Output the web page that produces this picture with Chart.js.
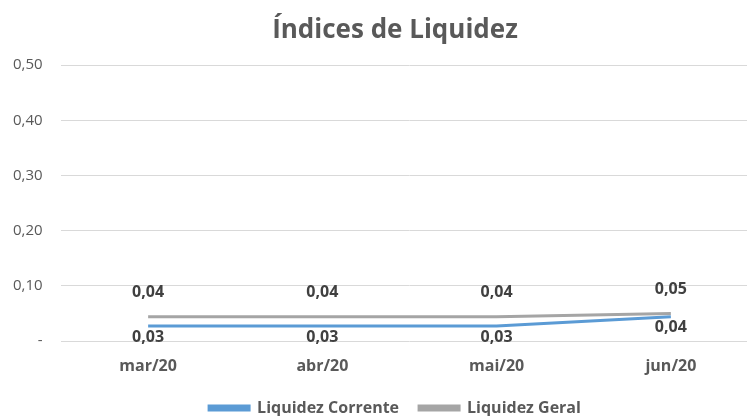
<!DOCTYPE html>
<html>
<head>
<meta charset="utf-8">
<script src="https://cdn.jsdelivr.net/npm/chart.js@4"></script>
<style>
    html, body { margin: 0; padding: 0; background: #fff; overflow: hidden; }
    #wrap { width: 790px; height: 426px; }
</style>
</head>
<body>
<div id="wrap"><canvas id="liquidezChart"></canvas></div>
<script>
const meses = ['mar/20', 'abr/20', 'mai/20', 'jun/20'];
const liquidezCorrente = [0.027, 0.027, 0.027, 0.044];
const liquidezGeral = [0.044, 0.044, 0.044, 0.050];
const yTicks = [0, 0.1, 0.2, 0.3, 0.4, 0.5];

const fonte = "'Open Sans', sans-serif";

function formatar(v){
    if(v === 0){
        return '-';
    }
    return v.toFixed(2).replace('.', ',');
}

// rótulos de dados no estilo do Excel
const rotulos = {
    id: 'rotulos',
    afterDatasetsDraw(chart){
        const ctx = chart.ctx;
        ctx.save();
        ctx.font = 'bold 16px ' + fonte;
        ctx.fillStyle = '#404040';
        ctx.textAlign = 'center';
        ctx.textBaseline = 'middle';
        chart.data.datasets.forEach((ds, i) => {
            const meta = chart.getDatasetMeta(i);
            meta.data.forEach((pt, j) => {
                const dy = i === 0 ? 11 : -24;
                ctx.fillText(formatar(ds.data[j]), pt.x, pt.y + dy);
            });
        });
        ctx.restore();
    }
};

const ctx1 = document.getElementById('liquidezChart');

new Chart(ctx1, {
    type: 'line',
    data: {
        labels: meses,
        datasets: [{
            label: 'Liquidez Corrente',
            data: liquidezCorrente,
            borderColor: '#5b9bd5',
            backgroundColor: '#5b9bd5',
            borderWidth: 3,
            pointRadius: 0,
            tension: 0
        }, {
            label: 'Liquidez Geral',
            data: liquidezGeral,
            borderColor: '#a5a5a5',
            backgroundColor: '#a5a5a5',
            borderWidth: 3,
            pointRadius: 0,
            tension: 0
        }]
    },
    options: {
        responsive: true,
        maintainAspectRatio: false,
        animation: false,
        layout: {
            padding: { left: 32, right: 32, top: 7, bottom: 0 }
        },
        plugins: {
            title: {
                display: true,
                text: 'Índices de Liquidez',
                color: '#595959',
                font: { family: fonte, size: 26, weight: 'bold' },
                padding: { top: 8, bottom: 19 }
            },
            legend: {
                position: 'bottom',
                labels: {
                    color: '#595959',
                    font: { family: fonte, size: 16, weight: 'bold' },
                    boxWidth: 40,
                    boxHeight: 4,
                    padding: 20
                }
            },
            tooltip: { enabled: false }
        },
        scales: {
            x: {
                offset: true,
                afterFit(scale){
                    scale.height = 39;
                },
                grid: { display: false, drawTicks: false },
                border: { display: false },
                ticks: {
                    color: '#595959',
                    font: { family: fonte, size: 16, weight: 'bold' },
                    padding: 16
                }
            },
            y: {
                min: 0,
                max: 0.5,
                afterFit(scale){
                    scale.width = 29;
                },
                afterBuildTicks(scale){
                    scale.ticks = yTicks.map(v => ({ value: v }));
                },
                grid: { color: '#d9d9d9', drawTicks: false },
                border: { display: false },
                ticks: {
                    mirror: true,
                    crossAlign: 'far',
                    color: '#595959',
                    font: { family: fonte, size: 15 },
                    padding: -48,
                    callback: v => formatar(v)
                }
            }
        }
    },
    plugins: [rotulos]
});
</script>
</body>
</html>
